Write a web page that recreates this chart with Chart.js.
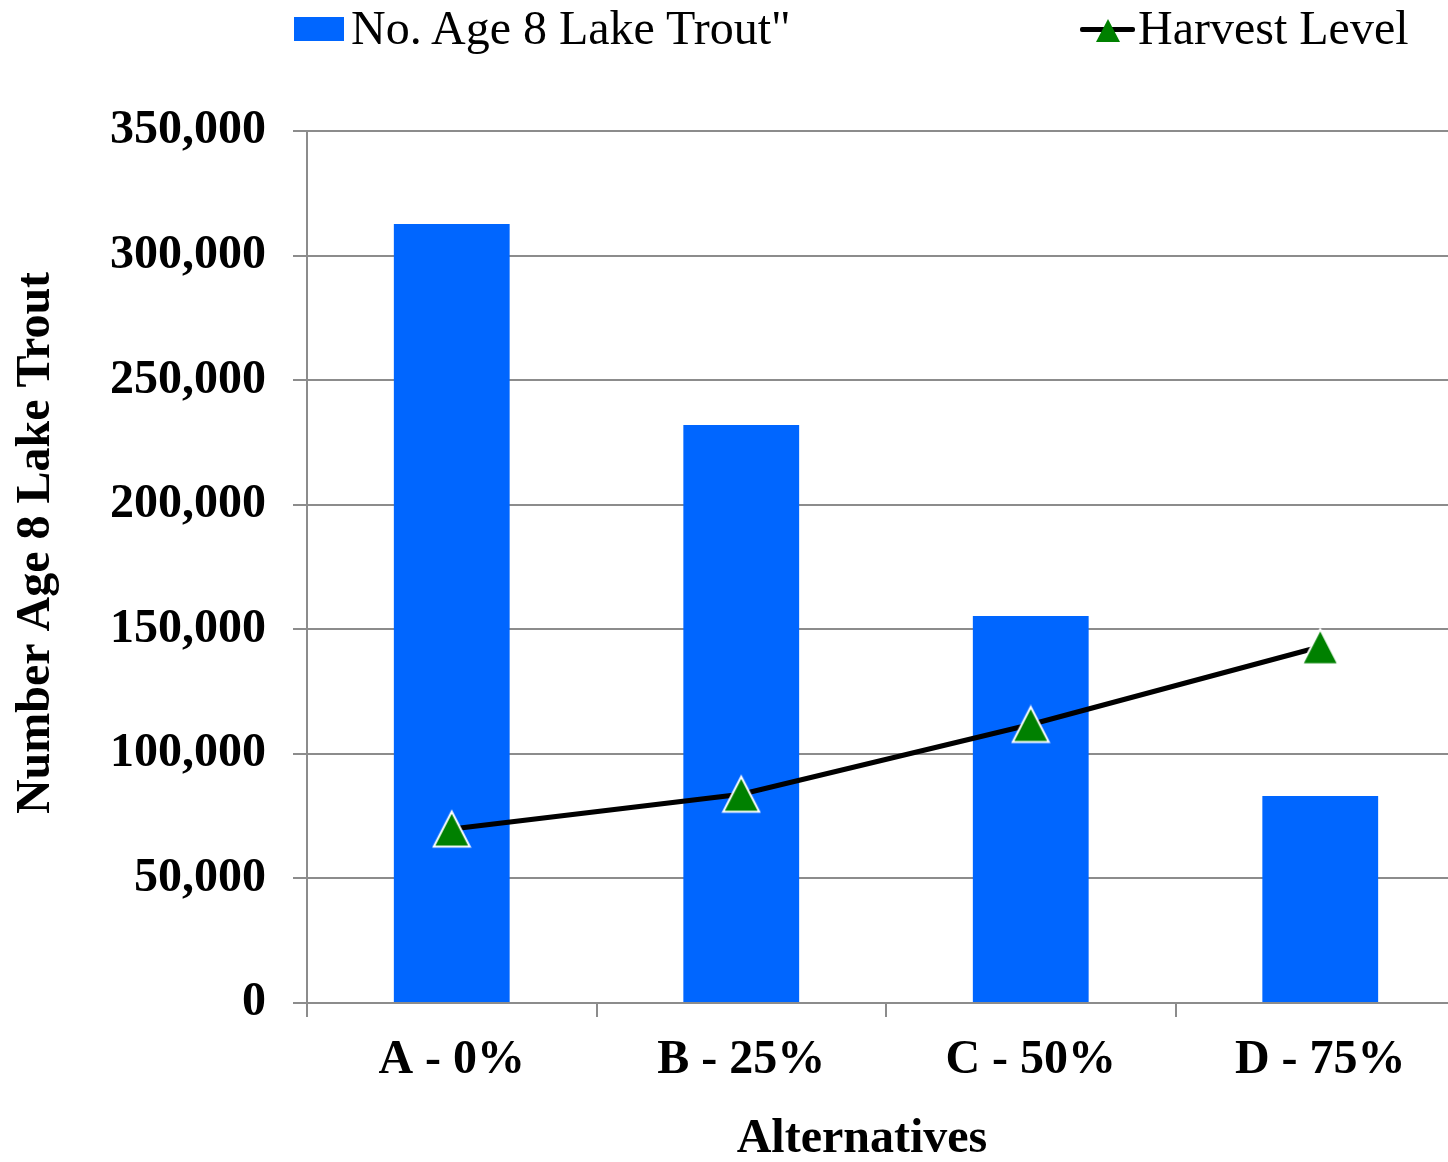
<!DOCTYPE html>
<html>
<head>
<meta charset="utf-8">
<script src="https://cdn.jsdelivr.net/npm/chart.js@4/dist/chart.umd.min.js"></script>
<style>
  html, body { margin: 0; padding: 0; background: #fff; overflow: hidden; }
  #wrap { position: relative; width: 1465px; height: 1162px; }
  #chart { display: block; }
  .leg { position: absolute; font-family: "Liberation Serif", "Times New Roman", serif; font-size: 48px; line-height: 48px; color: #000; white-space: pre; }
</style>
</head>
<body>
<div id="wrap">
  <canvas id="chart" width="1465" height="1162"></canvas>
  <div style="position:absolute;left:294px;top:17px;width:50px;height:24px;background:#0066ff;"></div>
  <div class="leg" style="left:351px;top:4px;">No. Age 8 Lake Trout"</div>
  <div style="position:absolute;left:1080px;top:27px;width:55px;height:5px;background:#000;border-radius:2px;"></div>
  <div style="position:absolute;left:1096px;top:19px;width:0;height:0;border-left:12px solid transparent;border-right:12px solid transparent;border-bottom:23px solid #008000;"></div>
  <div class="leg" style="left:1138px;top:4px;">Harvest Level</div>
</div>
<script>
const categories = ['A - 0%', 'B - 25%', 'C - 50%', 'D - 75%'];
const lakeTrout = [312700, 232000, 155300, 83100];
const harvestLevel = [69800, 83800, 111800, 143000];
const yTicks = [0, 50000, 100000, 150000, 200000, 250000, 300000, 350000];

const serif = '"Liberation Serif", "Times New Roman", serif';
const gridGray = '#8c8c8c';

// triangle marker like the office one (taller than chart.js default)
function makeTriangle() {
    const c = document.createElement('canvas');
    c.width = 40;
    c.height = 40;
    const g = c.getContext('2d');
    g.beginPath();
    g.moveTo(20, 2.5);
    g.lineTo(38, 37.5);
    g.lineTo(2, 37.5);
    g.closePath();
    g.fillStyle = '#008000';
    g.fill();
    g.strokeStyle = '#ffffff';
    g.lineWidth = 2;
    g.stroke();
    return c;
}
const triangle = makeTriangle();

const ctx = document.getElementById('chart').getContext('2d');
new Chart(ctx, {
    data: {
        labels: categories,
        datasets: [
            {
                type: 'line',
                label: 'Harvest Level',
                data: harvestLevel,
                borderColor: '#000000',
                borderWidth: 5,
                pointStyle: triangle,
                pointRadius: 20,
                tension: 0,
                order: 0
            },
            {
                type: 'bar',
                label: 'No. Age 8 Lake Trout"',
                data: lakeTrout,
                backgroundColor: '#0066ff',
                categoryPercentage: 1.0,
                barPercentage: 0.4,
                order: 1
            }
        ]
    },
    options: {
        responsive: false,
        maintainAspectRatio: false,
        animation: false,
        devicePixelRatio: 1,
        layout: {
            autoPadding: false,
            padding: { top: 131, left: 0, right: 0, bottom: 0 }
        },
        plugins: {
            legend: { display: false },
            tooltip: { enabled: false }
        },
        scales: {
            x: {
                offset: true,
                afterFit: function(scale) {
                    scale.height = 159;
                    scale.paddingLeft = 0;
                    scale.paddingRight = 0;
                },
                grid: {
                    offset: true,
                    drawOnChartArea: false,
                    drawTicks: true,
                    tickLength: 14,
                    color: gridGray,
                    lineWidth: 2
                },
                border: { color: gridGray, width: 2 },
                ticks: {
                    color: '#000',
                    padding: 15,
                    font: { family: serif, size: 48, weight: 'bold' }
                },
                title: {
                    display: true,
                    text: 'Alternatives    ',
                    color: '#000',
                    padding: { top: 0, bottom: -2 },
                    font: { family: serif, size: 48, weight: 'bold', lineHeight: 1.0 }
                }
            },
            y: {
                min: 0,
                max: 350000,
                afterFit: function(scale) {
                    scale.width = 307;
                    scale.paddingTop = 0;
                    scale.paddingBottom = 0;
                },
                afterBuildTicks: function(scale) {
                    scale.ticks = yTicks.map(v => ({ value: v }));
                },
                grid: {
                    drawTicks: true,
                    tickLength: 14,
                    color: gridGray,
                    lineWidth: 2
                },
                border: { color: gridGray, width: 2 },
                ticks: {
                    color: '#000',
                    padding: 27,
                    font: { family: serif, size: 48, weight: 'bold' },
                    callback: function(value) {
                        return Number(value).toLocaleString('en-US');
                    }
                },
                title: {
                    display: true,
                    text: '    Number Age 8 Lake Trout',
                    color: '#000',
                    padding: { top: 8, bottom: 0 },
                    font: { family: serif, size: 48, weight: 'bold', lineHeight: 1.2 }
                }
            }
        }
    }
});
</script>
</body>
</html>
